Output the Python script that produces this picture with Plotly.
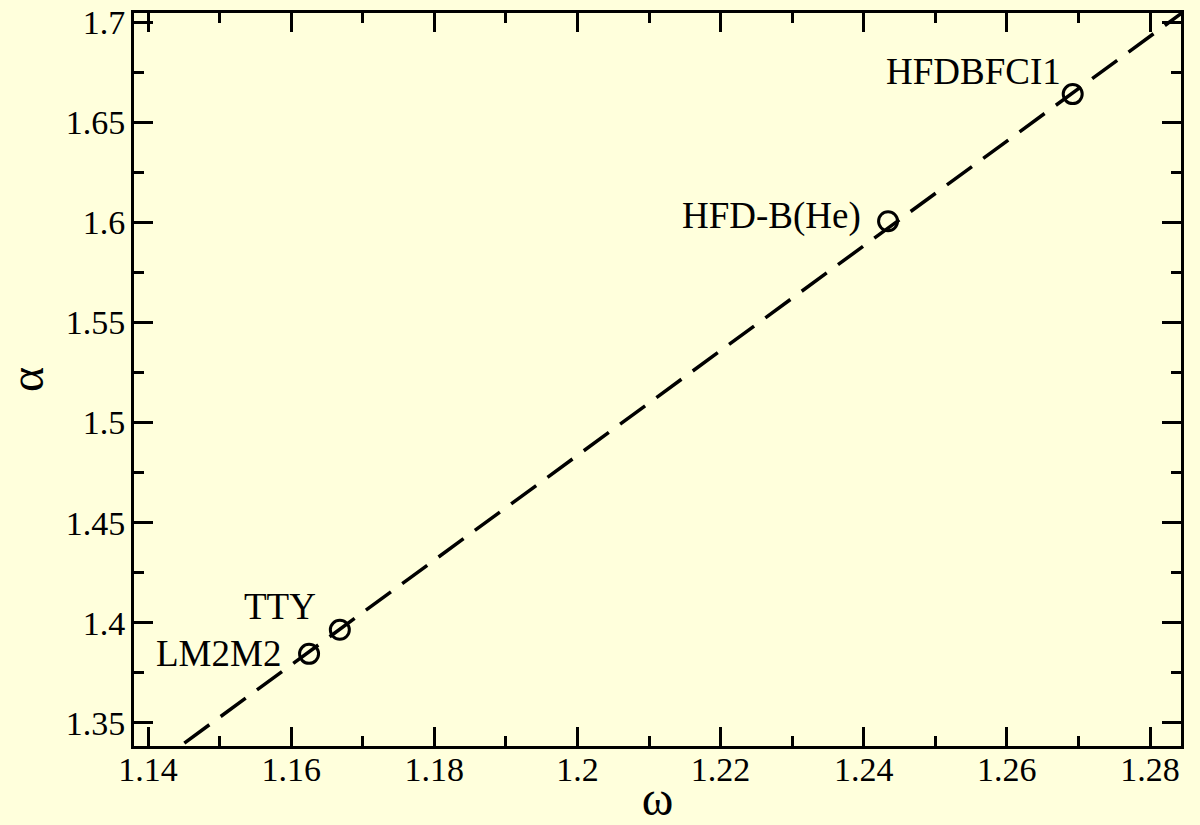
import plotly.graph_objects as go

# Potential models: (omega, alpha)
models = ["LM2M2", "TTY", "HFD-B(He)", "HFDBFCI1"]
omega = [1.1625, 1.1668, 1.2434, 1.2692]
alpha = [1.3845, 1.3965, 1.6005, 1.664]

# Linear fit through the models (endpoints)
fit_omega = [1.14, 1.29]
fit_alpha = [1.3267, 1.719]

# Label offsets in pixels (x shift, y shift) relative to each point
label_shift = {
    "LM2M2": (-26, 0),
    "TTY": (-22, 23),
    "HFD-B(He)": (-25, 5),
    "HFDBFCI1": (-10, 23),
}

bg = "rgb(255,255,220)"
serif = "Liberation Serif"

fig = go.Figure()
fig.add_trace(go.Scatter(
    x=fit_omega, y=fit_alpha, mode="lines",
    line=dict(color="black", width=3.5, dash="31px,14px"),
    hoverinfo="skip", showlegend=False,
))
fig.add_trace(go.Scatter(
    x=omega, y=alpha, mode="markers",
    marker=dict(symbol="circle-open", size=19, color="black",
                line=dict(color="black", width=3)),
    showlegend=False,
))

for name, xv, yv in zip(models, omega, alpha):
    dx, dy = label_shift[name]
    fig.add_annotation(
        x=xv, y=yv, text=name, showarrow=False,
        xanchor="right", yanchor="middle", xshift=dx, yshift=dy,
        font=dict(family=serif, size=37, color="black"),
    )

axis_common = dict(
    showline=True, linecolor="black", linewidth=3, mirror="allticks",
    ticks="inside", ticklen=19, tickwidth=2.5, tickcolor="black",
    showgrid=False, zeroline=False, automargin=False,
    tickfont=dict(family=serif, size=34, color="black"),
)

fig.update_xaxes(
    range=[1.13804, 1.28433], tick0=1.14, dtick=0.02,
    minor=dict(ticks="inside", ticklen=10, tickwidth=2.5, tickcolor="black",
               dtick=0.01, tick0=1.14, showgrid=False),
    title=dict(text="ω", font=dict(family=serif, size=48, color="black"), standoff=4),
    ticklabelstandoff=-9,
    **axis_common,
)
fig.update_yaxes(
    range=[1.3385, 1.7045], tick0=1.35, dtick=0.05,
    minor=dict(ticks="inside", ticklen=10, tickwidth=2.5, tickcolor="black",
               dtick=0.025, tick0=1.35, showgrid=False),
    title=dict(text="α", font=dict(family=serif, size=48, color="black"), standoff=10),
    ticklabelstandoff=-1,
    **axis_common,
)

fig.update_layout(
    width=1200, height=825,
    margin=dict(l=134, r=19, t=13, b=79),
    paper_bgcolor=bg, plot_bgcolor=bg,
    showlegend=False,
)

fig.write_html("out.html")
